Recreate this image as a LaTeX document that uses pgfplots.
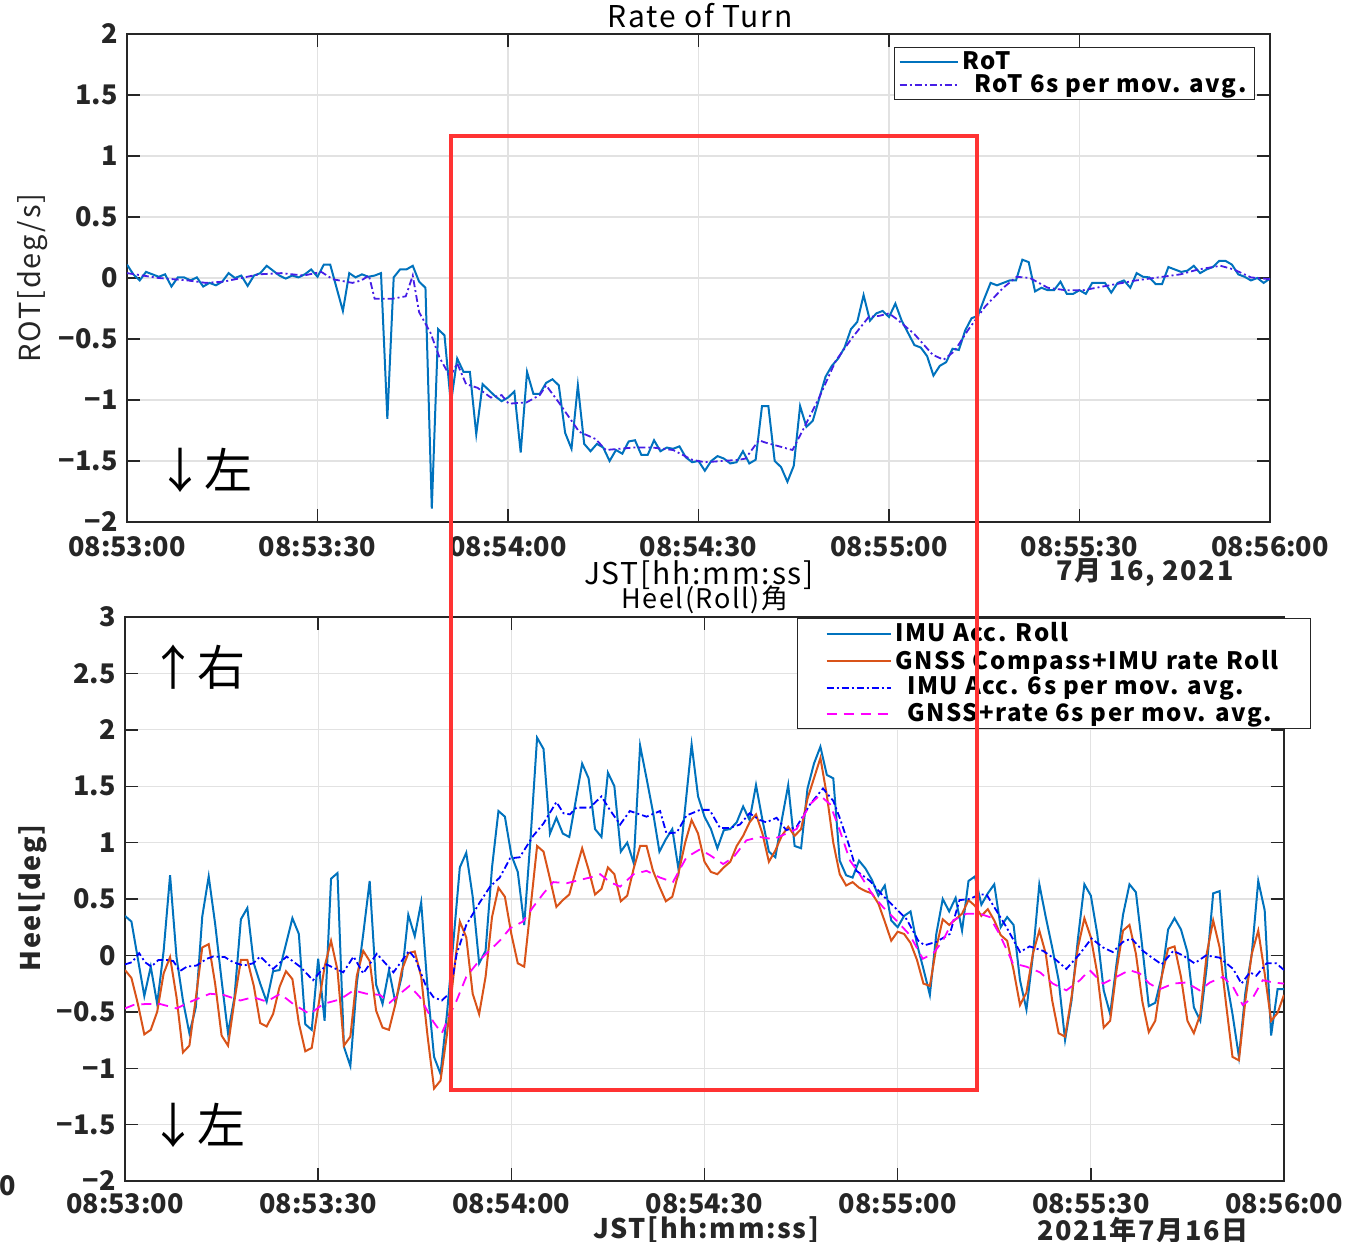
\documentclass[border=0pt]{standalone}
\usepackage{fontspec}
\setmainfont{Noto Sans CJK JP}
\newfontfamily\lsfont[LetterSpace=6]{Noto Sans CJK JP}
\usepackage{pgfplots}
\pgfplotsset{compat=1.18}
\definecolor{mblue}{RGB}{0,114,189}
\definecolor{morange}{RGB}{217,83,25}
\definecolor{mviolet}{RGB}{70,30,230}
\definecolor{pblue}{RGB}{0,0,255}
\definecolor{pmag}{RGB}{255,0,255}
\definecolor{axgray}{RGB}{38,38,38}
\definecolor{gridgray}{RGB}{226,226,226}
\definecolor{redbox}{RGB}{255,51,51}
\pgfplotsset{
 mstyle/.style={
   scale only axis, xmin=0, xmax=180, xtick={0,30,...,180},
   xticklabels={08:53:00,08:53:30,08:54:00,08:54:30,08:55:00,08:55:30,08:56:00},
   tick align=inside, tick pos=both,
   major tick length=6.5pt,
   grid=major, grid style={gridgray, line width=0.6pt},
   axis line style={axgray, line width=0.7pt},
   every tick/.style={axgray, line width=0.7pt},
   ticklabel style={font=\bfseries\fontsize{13.5}{15}\selectfont, text=axgray, inner sep=1pt},
   yticklabel style={xshift=-3.5pt},
   legend cell align=left,
 }}
\begin{document}
\begin{tikzpicture}
\useasboundingbox (0,0) rectangle (672.5pt,-621pt);
% ---------------- top axis ----------------
\begin{axis}[mstyle, at={(63.5pt,-17pt)}, anchor=north west, width=571.5pt, height=244pt,
  xticklabel style={yshift=-6pt},
  ymin=-2, ymax=2, ytick={-2,-1.5,-1,-0.5,0,0.5,1,1.5,2},
  yticklabels={−2,−1.5,−1,−0.5,0,0.5,1,1.5,2},
  legend image code/.code={\draw[#1] (0pt,0pt) -- (29pt,0pt);},
  legend style={at={(0.987,0.973)}, anchor=north east, draw=axgray, line width=0.6pt, fill=white,
    font=\lsfont\bfseries\fontsize{12}{12.5}\selectfont, inner xsep=2pt, inner ysep=0pt, row sep=-3pt},
]
\addplot[color=mblue, line width=1pt] coordinates {(0,0.11)(1,0.03)(2,-0.02)(3,0.05)(4,0.03)(5,0.01)(6,0.03)(7,-0.07)(8,0.005)(9,0.005)(10,-0.02)(11,0.005)(12,-0.07)(13,-0.04)(14,-0.06)(15,-0.03)(16,0.04)(17,0)(18,0.02)(19,-0.065)(20,0.02)(21,0.04)(22,0.10)(23,0.06)(24,0.02)(25,-0.005)(26,0.02)(27,0.005)(28,0.03)(29,0.07)(30,0.01)(31,0.11)(32,0.11)(33,-0.08)(34,-0.27)(35,0.04)(36,0.005)(37,0.03)(38,0.01)(39,0.02)(40,0.04)(41,-1.155)(42,0.005)(43,0.07)(44,0.07)(45,0.10)(46,-0.03)(47,-0.08)(48,-1.89)(49,-0.42)(50,-0.47)(51,-1.03)(52,-0.66)(53,-0.77)(54,-0.77)(55,-1.28)(56,-0.87)(57,-0.92)(58,-0.97)(59,-1.01)(60,-0.98)(61,-0.93)(62,-1.43)(63,-0.77)(64,-0.95)(65,-0.95)(66,-0.86)(67,-0.83)(68,-0.88)(69,-1.27)(70,-1.40)(71,-0.88)(72,-1.36)(73,-1.42)(74,-1.36)(75,-1.39)(76,-1.50)(77,-1.41)(78,-1.44)(79,-1.34)(80,-1.33)(81,-1.45)(82,-1.45)(83,-1.33)(84,-1.42)(85,-1.39)(86,-1.40)(87,-1.38)(88,-1.47)(89,-1.51)(90,-1.50)(91,-1.58)(92,-1.50)(93,-1.46)(94,-1.48)(95,-1.52)(96,-1.51)(97,-1.42)(98,-1.52)(99,-1.49)(100,-1.05)(101,-1.05)(102,-1.50)(103,-1.55)(104,-1.67)(105,-1.54)(106,-1.05)(107,-1.22)(108,-1.17)(109,-0.99)(110,-0.81)(111,-0.72)(112,-0.66)(113,-0.57)(114,-0.42)(115,-0.36)(116,-0.14)(117,-0.35)(118,-0.29)(119,-0.27)(120,-0.32)(121,-0.21)(122,-0.35)(123,-0.45)(124,-0.55)(125,-0.57)(126,-0.64)(127,-0.80)(128,-0.72)(129,-0.69)(130,-0.58)(131,-0.59)(132,-0.43)(133,-0.33)(134,-0.31)(135,-0.17)(136,-0.04)(137,-0.06)(138,-0.04)(139,-0.02)(140,-0.02)(141,0.15)(142,0.13)(143,-0.11)(144,-0.08)(145,-0.10)(146,-0.10)(147,-0.03)(148,-0.13)(149,-0.13)(150,-0.10)(151,-0.13)(152,-0.04)(153,-0.04)(154,-0.04)(155,-0.12)(156,-0.04)(157,-0.02)(158,-0.08)(159,0.04)(160,0.01)(161,0.005)(162,-0.05)(163,-0.05)(164,0.09)(165,0.07)(166,0.05)(167,0.06)(168,0.10)(169,0.04)(170,0.07)(171,0.09)(172,0.14)(173,0.14)(174,0.11)(175,0.03)(176,0.01)(177,-0.02)(178,0)(179,-0.04)(180,-0.005)};
\addlegendentry{RoT}
\addplot[color=mviolet, line width=0.9pt, dash pattern=on 3.5pt off 1.5pt on 1pt off 1.5pt] coordinates {(0,0.04)(5,0)(9.6,-0.02)(12.4,-0.04)(15.2,-0.03)(18,0)(20.8,0.03)(24.3,0.04)(27.8,0.02)(30.6,0.05)(32.4,-0.01)(35.5,-0.04)(36.9,-0.02)(38.1,0.02)(39,-0.17)(41.8,-0.17)(43.9,-0.15)(45,0.02)(46,-0.28)(47.8,-0.45)(49.2,-0.65)(50.9,-0.81)(52,-0.70)(53.4,-0.87)(55.2,-0.90)(57.3,-0.98)(59,-0.96)(60.1,-1.03)(62.9,-1.02)(65,-0.96)(66,-0.88)(68,-1.02)(71.2,-1.26)(73.8,-1.32)(75.4,-1.41)(79.7,-1.39)(82.8,-1.39)(86,-1.41)(89,-1.49)(91,-1.51)(96.4,-1.49)(97.4,-1.48)(99.5,-1.33)(100.6,-1.35)(104.8,-1.41)(106.4,-1.25)(109,-0.98)(111.6,-0.68)(114.2,-0.49)(116.8,-0.32)(118.5,-0.31)(120,-0.29)(121.3,-0.34)(124,-0.46)(126.9,-0.63)(128.6,-0.67)(130.3,-0.60)(132.4,-0.43)(135.2,-0.23)(138,-0.08)(140.1,0.01)(142.2,0)(145,-0.08)(147.8,-0.10)(150.6,-0.10)(154.7,-0.06)(158.9,-0.02)(163.1,0.01)(165.9,0.03)(168.7,0.07)(172.2,0.10)(174.3,0.07)(177,0.005)(180,-0.01)};
\addlegendentry{\hspace{6pt}RoT 6s per mov. avg.}
\end{axis}
% ---------------- bottom axis ----------------
\begin{axis}[mstyle, at={(62.5pt,-308.5pt)}, anchor=north west, width=579.5pt, height=282pt,
  xticklabel style={yshift=-5pt},
  ymin=-2, ymax=3, ytick={-2,-1.5,-1,-0.5,0,0.5,1,1.5,2,2.5,3},
  yticklabels={−2,−1.5,−1,−0.5,0,0.5,1,1.5,2,2.5,3},
  legend style={at={(1.0233,0.998)}, anchor=north east, draw=axgray, line width=0.6pt, fill=white,
    font=\lsfont\bfseries\fontsize{12}{12.5}\selectfont, inner xsep=14pt, inner ysep=0pt, row sep=-1.5pt},
]
\addplot[color=mblue, line width=1pt, legend image code/.code={\draw[color=mblue, line width=1pt] (0pt,0pt) -- (32pt,0pt);}] coordinates {(0,0.35)(1,0.30)(2,-0.03)(3,-0.36)(4,-0.10)(5,-0.43)(6,0.04)(7,0.71)(8,-0.015)(9,-0.40)(10,-0.69)(11,-0.46)(12,0.345)(13,0.70)(14,0.28)(15,-0.22)(16,-0.69)(17,-0.37)(18,0.32)(19,0.42)(20,-0.07)(21,-0.25)(22,-0.41)(23,-0.14)(24,-0.13)(25,0.10)(26,0.33)(27,0.19)(28,-0.61)(29,-0.66)(30,-0.03)(31,-0.58)(32,0.68)(33,0.73)(34,-0.81)(35,-0.98)(36,-0.25)(37,0.19)(38,0.66)(39,-0.26)(40,-0.43)(41,-0.13)(42,-0.42)(43,-0.18)(44,0.36)(45,0.17)(46,0.47)(47,-0.30)(48,-0.90)(49,-1.05)(50,-0.52)(51,0.12)(52,0.78)(53,0.91)(54,0.52)(55,-0.07)(56,0.04)(57,0.78)(58,1.28)(59,1.23)(60,0.89)(61,0.74)(62,0.27)(63,1.05)(64,1.93)(65,1.83)(66,1.08)(67,1.22)(68,1.08)(69,1.05)(70,1.37)(71,1.70)(72,1.57)(73,1.12)(74,1.05)(75,1.62)(76,1.50)(77,0.92)(78,1.00)(79,0.82)(80,1.86)(81,1.57)(82,1.27)(83,0.92)(84,1.03)(85,1.12)(86,0.75)(87,1.31)(88,1.87)(89,1.41)(90,1.23)(91,1.12)(92,0.95)(93,1.11)(94,1.12)(95,1.18)(96,1.32)(97,1.20)(98,1.51)(99,1.20)(100,0.92)(101,0.87)(102,1.20)(103,1.51)(104,0.97)(105,0.95)(106,1.48)(107,1.70)(108,1.85)(109,1.60)(110,1.57)(111,0.84)(112,0.71)(113,0.69)(114,0.84)(115,0.77)(116,0.67)(117,0.53)(118,0.62)(119,0.31)(120,0.25)(121,0.35)(122,0.39)(123,0.10)(124,-0.12)(125,-0.35)(126,0.19)(127,0.50)(128,0.39)(129,0.51)(130,0.22)(131,0.66)(132,0.70)(133,0.45)(134,0.55)(135,0.63)(136,0.25)(137,0.34)(138,0.27)(139,-0.22)(140,-0.48)(141,0.0)(142,0.63)(143,0.34)(144,0.07)(145,-0.22)(146,-0.75)(147,-0.40)(148,0.15)(149,0.63)(150,0.53)(151,0.19)(152,-0.31)(153,-0.52)(154,-0.07)(155,0.36)(156,0.63)(157,0.56)(158,0.07)(159,-0.45)(160,-0.42)(161,-0.19)(162,0.23)(163,0.33)(164,0.23)(165,0.03)(166,-0.46)(167,-0.58)(168,-0.10)(169,0.55)(170,0.57)(171,-0.19)(172,-0.52)(173,-0.90)(174,-0.33)(175,0.015)(176,0.66)(177,0.40)(178,-0.71)(179,-0.30)(180,-0.30)};
\addlegendentry{IMU Acc. Roll}
\addplot[color=morange, line width=1pt, legend image code/.code={\draw[color=morange, line width=1pt] (0pt,0pt) -- (32pt,0pt);}] coordinates {(0,-0.13)(1,-0.20)(2,-0.43)(3,-0.70)(4,-0.66)(5,-0.50)(6,-0.16)(7,-0.015)(8,-0.37)(9,-0.86)(10,-0.80)(11,-0.38)(12,0.07)(13,0.10)(14,-0.25)(15,-0.71)(16,-0.80)(17,-0.40)(18,-0.04)(19,-0.04)(20,-0.27)(21,-0.60)(22,-0.63)(23,-0.52)(24,-0.28)(25,-0.14)(26,-0.21)(27,-0.60)(28,-0.85)(29,-0.82)(30,-0.46)(31,-0.10)(32,0.13)(33,-0.13)(34,-0.80)(35,-0.72)(36,-0.18)(37,0.04)(38,-0.05)(39,-0.49)(40,-0.64)(41,-0.66)(42,-0.43)(43,-0.13)(44,0.02)(45,0.035)(46,-0.19)(47,-0.72)(48,-1.18)(49,-1.11)(50,-0.70)(51,-0.19)(52,0.30)(53,0.16)(54,-0.34)(55,-0.52)(56,-0.19)(57,0.34)(58,0.60)(59,0.52)(60,0.19)(61,-0.07)(62,-0.10)(63,0.43)(64,0.97)(65,0.92)(66,0.68)(67,0.43)(68,0.49)(69,0.54)(70,0.75)(71,0.95)(72,0.76)(73,0.54)(74,0.59)(75,0.78)(76,0.72)(77,0.48)(78,0.53)(79,0.77)(80,0.97)(81,0.97)(82,0.75)(83,0.61)(84,0.48)(85,0.52)(86,0.74)(87,1.00)(88,1.20)(89,1.08)(90,0.83)(91,0.74)(92,0.72)(93,0.78)(94,0.83)(95,0.97)(96,1.06)(97,1.18)(98,1.25)(99,1.08)(100,0.83)(101,0.93)(102,1.06)(103,1.14)(104,1.06)(105,1.12)(106,1.39)(107,1.57)(108,1.75)(109,1.42)(110,1.00)(111,0.72)(112,0.62)(113,0.65)(114,0.60)(115,0.57)(116,0.55)(117,0.46)(118,0.30)(119,0.13)(120,0.21)(121,0.19)(122,0.11)(123,-0.04)(124,-0.25)(125,-0.27)(126,0.07)(127,0.32)(128,0.27)(129,0.32)(130,0.37)(131,0.49)(132,0.44)(133,0.35)(134,0.41)(135,0.31)(136,0.18)(137,0.13)(138,-0.13)(139,-0.44)(140,-0.33)(141,0.015)(142,0.22)(143,0.015)(144,-0.40)(145,-0.69)(146,-0.72)(147,-0.37)(148,0.07)(149,0.33)(150,0.16)(151,-0.16)(152,-0.64)(153,-0.58)(154,-0.13)(155,0.22)(156,0.27)(157,0.015)(158,-0.41)(159,-0.68)(160,-0.58)(161,-0.19)(162,0.06)(163,0.08)(164,-0.19)(165,-0.58)(166,-0.69)(167,-0.52)(168,0.015)(169,0.31)(170,0.07)(171,-0.43)(172,-0.90)(173,-0.93)(174,-0.40)(175,0.015)(176,0.22)(177,-0.16)(178,-0.58)(179,-0.51)(180,-0.35)};
\addlegendentry{GNSS Compass+IMU rate Roll}
\addplot[color=pblue, line width=0.9pt, dash pattern=on 3.5pt off 1.5pt on 1pt off 1.5pt, legend image code/.code={\draw[color=pblue, line width=1pt, dash pattern=on 3.5pt off 1.5pt on 1pt off 1.5pt] (0pt,0pt) -- (32pt,0pt);}] coordinates {(0,-0.08)(1.1,-0.06)(2.2,0.02)(3.1,-0.06)(4.1,-0.10)(5.2,-0.04)(6.5,-0.04)(7.5,-0.05)(8.5,-0.14)(9.6,-0.10)(11.1,-0.09)(12.7,-0.03)(13.7,-0.01)(15.5,-0.015)(16.8,-0.06)(18.4,-0.09)(19.9,-0.07)(21,-0.01)(23,-0.12)(25.1,-0.01)(27.2,-0.10)(29.2,-0.22)(31.3,-0.08)(33.9,-0.15)(35.5,-0.01)(37,-0.16)(39.1,0.015)(41.7,-0.15)(44.1,0.04)(45.1,-0.03)(46.8,-0.28)(47.9,-0.37)(49.2,-0.40)(50.5,-0.33)(51.5,0.01)(53,0.27)(55.1,0.47)(56.7,0.61)(58.2,0.69)(59.8,0.86)(61.3,0.87)(63.4,1.06)(65,1.17)(67,1.36)(68.1,1.26)(69.1,1.25)(70.1,1.31)(72.2,1.31)(74,1.41)(75.3,1.29)(76.9,1.16)(78.4,1.28)(81,1.23)(83.1,1.28)(84.1,1.08)(85.7,1.09)(87.2,1.24)(89.3,1.29)(90.8,1.29)(92.4,1.13)(93.9,1.13)(95.5,1.16)(97,1.26)(98.6,1.20)(99.6,1.18)(101.2,1.22)(102.7,1.11)(104.3,1.14)(106.4,1.34)(108.4,1.48)(110,1.37)(111,1.22)(112.6,0.95)(113.6,0.75)(115.7,0.66)(117.7,0.53)(119.3,0.44)(121.4,0.32)(123.2,0.13)(124.2,0.09)(126,0.12)(128.1,0.19)(129.6,0.49)(131.2,0.50)(132.7,0.54)(133.8,0.54)(135.3,0.40)(136.9,0.25)(139,0.03)(140.5,0.08)(142.6,0.04)(144.6,-0.04)(146.2,-0.12)(148.3,0.015)(150.1,0.15)(151.9,0.07)(153.4,0.03)(155,0.12)(156.3,0.15)(158.1,0.04)(159.4,-0.015)(161,-0.08)(162.8,0.04)(164.3,0)(166.1,-0.07)(167.9,0)(170,-0.02)(172.1,-0.12)(173.4,-0.25)(174.7,-0.15)(175.7,-0.18)(177.3,-0.07)(178.8,-0.07)(180,-0.13)};
\addlegendentry{\hspace{6pt}IMU Acc. 6s per mov. avg.}
\addplot[color=pmag, line width=0.9pt, dash pattern=on 5pt off 3.5pt, legend image code/.code={\draw[color=pmag, line width=1pt, dash pattern=on 5pt off 3.5pt] (0pt,0pt) -- (32pt,0pt);}] coordinates {(0,-0.47)(1.3,-0.44)(3.4,-0.43)(5.4,-0.43)(8,-0.47)(10.6,-0.40)(13.2,-0.34)(15.3,-0.35)(17.9,-0.40)(19.9,-0.37)(22,-0.41)(24.1,-0.34)(26.1,-0.43)(28.7,-0.52)(30.8,-0.43)(33.4,-0.39)(35.5,-0.31)(37.5,-0.34)(39.6,-0.35)(41.1,-0.42)(42.7,-0.34)(44.2,-0.27)(45.8,-0.37)(47.9,-0.59)(49.2,-0.69)(50.5,-0.52)(51.5,-0.40)(53,-0.19)(55.1,-0.04)(58.2,0.13)(59.8,0.24)(61.8,0.30)(63.4,0.43)(65,0.55)(66.5,0.65)(68.6,0.64)(70.7,0.67)(72.2,0.69)(73.8,0.72)(75.3,0.65)(76.9,0.61)(79,0.72)(81,0.75)(83.1,0.69)(85.1,0.65)(87.2,0.87)(89.3,0.94)(90.8,0.89)(92.9,0.81)(94.5,0.87)(96.5,1.02)(98.6,1.05)(100.7,1.03)(102.7,1.08)(104.3,1.12)(106.4,1.34)(107.9,1.42)(109.5,1.34)(111,1.11)(112.6,0.84)(114.1,0.72)(116.2,0.53)(117.7,0.43)(119.8,0.31)(121.9,0.18)(123.9,-0.03)(125.5,0.015)(127,0.13)(128.6,0.31)(130.7,0.37)(132.7,0.37)(134.3,0.34)(135.8,0.19)(137.9,-0.07)(140,-0.10)(142.1,-0.15)(144.1,-0.25)(146.2,-0.31)(148.3,-0.22)(149.8,-0.13)(151.9,-0.25)(154,-0.19)(156,-0.13)(157.6,-0.16)(159.1,-0.25)(160.7,-0.30)(162.8,-0.25)(164.8,-0.24)(166.9,-0.31)(168.5,-0.24)(170.5,-0.19)(172.1,-0.28)(173.6,-0.44)(175.2,-0.37)(176.7,-0.22)(178.3,-0.24)(180,-0.25)};
\addlegendentry{\hspace{6pt}GNSS+rate 6s per mov. avg.}
\end{axis}
% ---------------- texts ----------------
\node[font=\lsfont\fontsize{15}{16}\selectfont] at (350pt,-8pt) {Rate of Turn};
\node[font=\lsfont\fontsize{15}{16}\selectfont] at (349.5pt,-287.5pt) {JST[hh:mm:ss]};
\node[font=\lsfont\bfseries\fontsize{13.5}{15}\selectfont, text=axgray] at (572.5pt,-286.5pt) {7月 16, 2021};
\node[font=\lsfont\fontsize{14.5}{16}\selectfont, rotate=90, text=axgray] at (16.5pt,-139pt) {ROT[deg/s]};
\node[font=\fontsize{24}{26}\selectfont] at (102pt,-235pt) {↓左};
\node[font=\lsfont\fontsize{13.5}{15}\selectfont] at (352.5pt,-300pt) {Heel(Roll)角};
\node[font=\fontsize{24}{26}\selectfont] at (98.5pt,-333.5pt) {↑右};
\node[font=\fontsize{24}{26}\selectfont] at (98.5pt,-562.5pt) {↓左};
\node[font=\lsfont\bfseries\fontsize{13.5}{15}\selectfont, rotate=90, text=axgray] at (16.5pt,-449pt) {Heel[deg]};
\node[font=\lsfont\bfseries\fontsize{13.5}{15}\selectfont, text=axgray] at (353pt,-615pt) {JST[hh:mm:ss]};
\node[font=\lsfont\bfseries\fontsize{13.5}{15}\selectfont, text=axgray] at (571.5pt,-615pt) {2021年7月16日};
\node[font=\bfseries\fontsize{13.5}{15}\selectfont, text=axgray] at (4pt,-593pt) {0};
\draw[redbox, line width=2pt] (225.5pt,-68pt) rectangle (488.5pt,-545pt);
\end{tikzpicture}
\end{document}
